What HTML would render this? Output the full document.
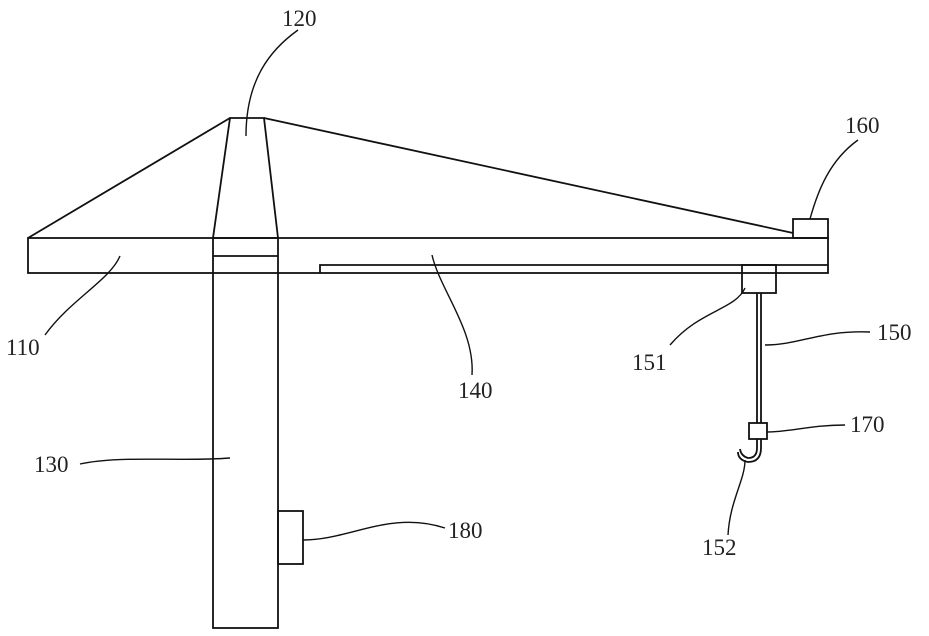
<!DOCTYPE html>
<html><head><style>html,body{margin:0;padding:0;background:#fff}svg{display:block}text{font-family:"Liberation Serif",serif;font-size:23px;fill:#222}</style></head><body>
<svg width="929" height="636" viewBox="0 0 929 636" xmlns="http://www.w3.org/2000/svg">
<g fill="none" stroke="#111" stroke-width="1.8">
<rect x="28" y="238" width="800" height="35"/>
<rect x="213" y="238" width="65" height="390"/>
<line x1="213" y1="256" x2="278" y2="256"/>
<polyline points="213,238 230,118 264,118 278,238"/>
<line x1="28" y1="238" x2="230" y2="118"/>
<line x1="264" y1="118" x2="793" y2="233"/>
<rect x="793" y="219" width="35" height="19"/>
<polyline points="320,273 320,265 828,265"/>
<rect x="742" y="265" width="34" height="28"/>
<line x1="757" y1="293" x2="757" y2="423"/>
<line x1="761" y1="293" x2="761" y2="423"/>
<rect x="749" y="423" width="18" height="16"/>
<line x1="757" y1="439" x2="757" y2="448"/>
<line x1="761" y1="439" x2="761" y2="448"/>
<path d="M757,448 Q757,458 748,458 Q741,456 740,449"/>
<path d="M761,448 Q761,462 748,462 Q738,460 738,452"/>
<rect x="278" y="511" width="25" height="53"/>
</g>
<g fill="none" stroke="#111" stroke-width="1.4">
<path d="M298,30 C270,50 246,80 246,136"/>
<path d="M120,256 C110,280 70,300 45,335"/>
<path d="M432,255 C440,290 475,330 472,375"/>
<path d="M858,140 C830,160 818,190 810,219"/>
<path d="M745,288 C735,310 700,310 670,345"/>
<path d="M765,345 C800,345 820,330 870,332"/>
<path d="M767,432 C790,432 810,425 845,425"/>
<path d="M745,460 C745,480 730,500 728,535"/>
<path d="M303,540 C350,540 390,510 445,528"/>
<path d="M80,464 C120,455 180,462 230,458"/>
</g>
<text x="282" y="26">120</text>
<text x="845" y="133">160</text>
<text x="6" y="355">110</text>
<text x="458" y="398">140</text>
<text x="632" y="370">151</text>
<text x="877" y="340">150</text>
<text x="850" y="432">170</text>
<text x="702" y="555">152</text>
<text x="448" y="538">180</text>
<text x="34" y="472">130</text>
</svg>
</body></html>
